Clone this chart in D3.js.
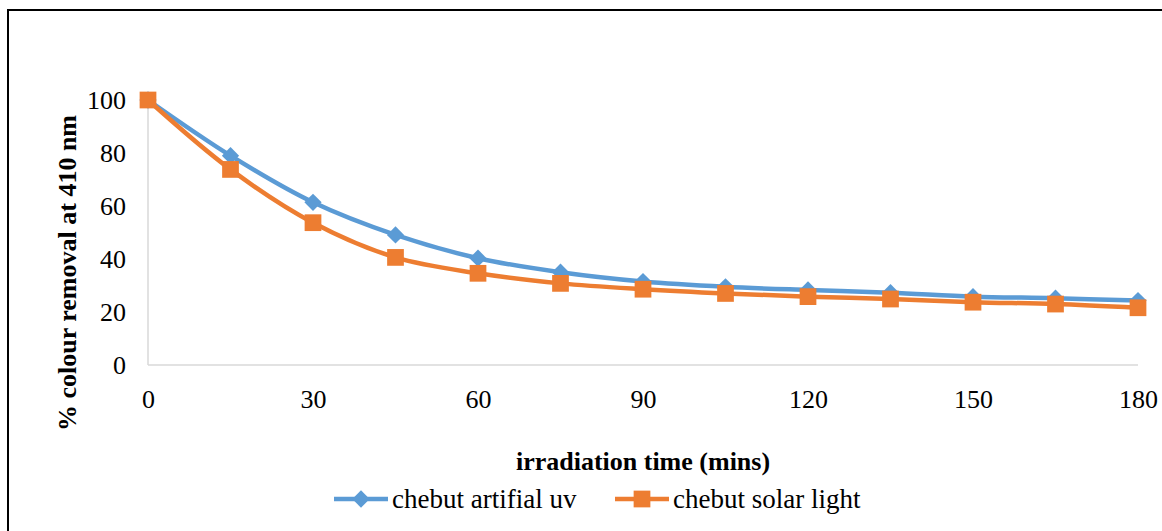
<!DOCTYPE html>
<html>
<head>
<meta charset="utf-8">
<script src="https://cdn.jsdelivr.net/npm/d3@7"></script>
<style>
  html, body { margin: 0; padding: 0; background: #fff; }
  svg text { font-family: "Liberation Serif", "Times New Roman", serif; fill: #000; }
</style>
</head>
<body>
<div id="chart"></div>
<script>
// irradiation time (mins)
var times = [0, 15, 30, 45, 60, 75, 90, 105, 120, 135, 150, 165, 180];
// % colour removal at 410 nm
var uvValues = [100, 79.0, 61.4, 49.1, 40.3, 35.0, 31.5, 29.5, 28.3, 27.3, 25.8, 25.2, 24.3];
var solarValues = [100, 73.8, 53.7, 40.6, 34.6, 30.8, 28.6, 27.0, 25.8, 24.9, 23.7, 23.0, 21.6];
var xTicks = [0, 30, 60, 90, 120, 150, 180];
var yTicks = [0, 20, 40, 60, 80, 100];

var seriesNames = ["chebut artifial uv", "chebut solar light"];
var seriesColors = ["#5b9bd5", "#ed7d31"];

var W = 1162, H = 531;

var svg = d3.select("#chart").append("svg")
	.attr("width", W)
	.attr("height", H)
	.style("display", "block");

// outer chart frame (runs off the right / bottom edge)
svg.append("rect")
	.attr("x", 8).attr("y", 10)
	.attr("width", W + 10).attr("height", H + 10)
	.attr("fill", "none")
	.attr("stroke", "#000")
	.attr("stroke-width", 2);

var x = d3.scaleLinear().domain([0, 180]).range([148, 1138]);
var y = d3.scaleLinear().domain([0, 100]).range([365, 100]);

// axes lines
svg.append("line")
	.attr("x1", x(0)).attr("x2", x(180))
	.attr("y1", y(0)).attr("y2", y(0))
	.attr("stroke", "#d9d9d9").attr("stroke-width", 1.5);
svg.append("line")
	.attr("x1", x(0)).attr("x2", x(0))
	.attr("y1", y(0)).attr("y2", y(100))
	.attr("stroke", "#d9d9d9").attr("stroke-width", 1.5);

// tick labels
function styleTicks(g) {
	g.attr("font-family", null).attr("font-size", null);
	g.select(".domain").remove();
	g.selectAll("text")
		.style("font-family", "'Liberation Serif', serif")
		.style("font-size", "26px")
		.attr("fill", "#000");
}

var yAxis = d3.axisLeft(y).tickValues(yTicks).tickSize(0).tickPadding(22);
var gy = svg.append("g").attr("transform", "translate(" + x(0) + ",0)").call(yAxis);
styleTicks(gy);
gy.selectAll("text").attr("dy", "0.34em");

var xAxis = d3.axisBottom(x).tickValues(xTicks).tickSize(0).tickPadding(30);
var gx = svg.append("g").attr("transform", "translate(0," + y(0) + ")").call(xAxis);
styleTicks(gx);
gx.selectAll("text").attr("dy", "0.5em");

// axis titles
svg.append("text")
	.attr("x", 643).attr("y", 470)
	.attr("text-anchor", "middle")
	.style("font-size", "26px")
	.style("font-weight", "bold")
	.text("irradiation time (mins)");

svg.append("text")
	.attr("transform", "translate(76,273) rotate(-90)")
	.attr("text-anchor", "middle")
	.style("font-size", "26px")
	.style("font-weight", "bold")
	.text("% colour removal at 410 nm");

// series
var series = [uvValues, solarValues].map(function(vals, i) {
	return {
		name: seriesNames[i],
		color: seriesColors[i],
		points: times.map(function(t, j) { return [t, vals[j]]; })
	};
});

var line = d3.line()
	.x(function(d) { return x(d[0]); })
	.y(function(d) { return y(d[1]); })
	.curve(d3.curveCatmullRom.alpha(0.5));

var diamond = d3.symbol().type(d3.symbolDiamond2).size(190);
var square = d3.symbol().type(d3.symbolSquare).size(280);

series.forEach(function(s, i) {
	var g = svg.append("g");
	g.append("path")
		.attr("d", line(s.points))
		.attr("fill", "none")
		.attr("stroke", s.color)
		.attr("stroke-width", 4.5)
		.attr("stroke-linejoin", "round");
	g.selectAll("path.mk").data(s.points).enter().append("path")
		.attr("class", "mk")
		.attr("transform", function(d) { return "translate(" + x(d[0]) + "," + y(d[1]) + ")"; })
		.attr("d", i === 0 ? diamond : square)
		.attr("fill", s.color);
});

// legend
var legendX = [334, 615];
series.forEach(function(s, i) {
	var g = svg.append("g").attr("transform", "translate(" + legendX[i] + ",499)");
	g.append("line")
		.attr("x1", 0).attr("x2", 54)
		.attr("stroke", s.color).attr("stroke-width", 4.5);
	g.append("path")
		.attr("transform", "translate(27,0)")
		.attr("d", i === 0 ? diamond : square)
		.attr("fill", s.color);
	g.append("text")
		.attr("x", 58).attr("y", 0)
		.attr("dy", "0.34em")
		.style("font-size", "27px")
		.text(s.name);
});
</script>
</body>
</html>
